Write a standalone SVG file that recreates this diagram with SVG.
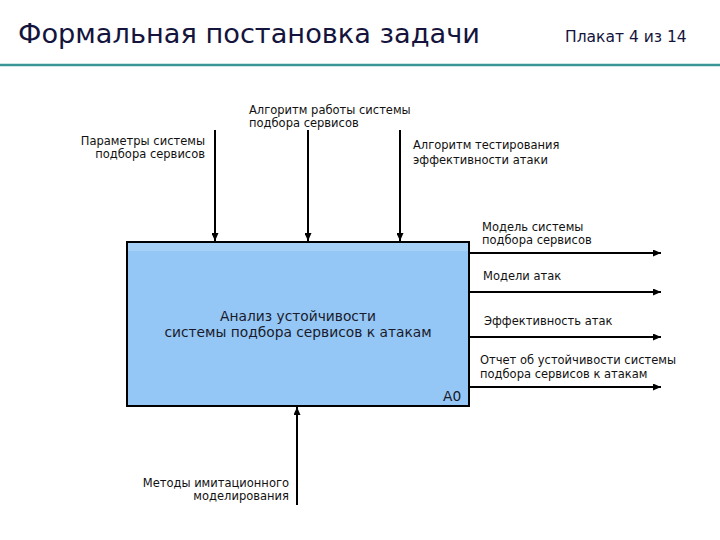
<svg xmlns="http://www.w3.org/2000/svg" width="720" height="540" viewBox="0 0 720 540">
<defs>
<marker id="ah" markerWidth="8" markerHeight="7" refX="8" refY="3.5" orient="auto" markerUnits="userSpaceOnUse">
<path d="M0,0 L8,3.5 L0,7 Z" fill="#000"/>
</marker>
<style>
.lbl{font-family:"DejaVu Sans",Verdana,sans-serif;font-size:11.5px;fill:#111}
.ttl{font-family:"DejaVu Sans",Verdana,sans-serif;fill:#14143c}
.conn line{stroke:#000;stroke-width:2;marker-end:url(#ah)}
.box{fill:#94c7f6;stroke:#000;stroke-width:2}
.ctr{font-family:"DejaVu Sans",Verdana,sans-serif;font-size:13.8px;fill:#1a1a2a}
</style>
</defs>
<rect width="720" height="540" fill="#fff"/>
<g id="header">
<text class="ttl" x="18" y="43" font-size="26" textLength="462" lengthAdjust="spacingAndGlyphs">Формальная постановка задачи</text>
<text class="ttl" x="565" y="42" font-size="15.5">Плакат 4 из 14</text>
<line x1="0" y1="65" x2="720" y2="65" stroke="#3a9696" stroke-width="2.5"/>
</g>
<g id="A0">
<rect class="box" x="127" y="242" width="342" height="164"/>
<rect x="128" y="243" width="340" height="8" fill="#a6d0f6"/>
<text class="ctr" x="298" y="321" text-anchor="middle">Анализ устойчивости</text>
<text class="ctr" x="298" y="337" text-anchor="middle">системы подбора сервисов к атакам</text>
<text class="ctr" x="443" y="401">A0</text>
</g>
<g id="connectors" class="conn">
<line x1="215" y1="130" x2="215" y2="241"/>
<line x1="308" y1="130" x2="308" y2="241"/>
<line x1="400" y1="130" x2="400" y2="241"/>
<line x1="469" y1="253" x2="661" y2="253"/>
<line x1="469" y1="292" x2="661" y2="292"/>
<line x1="469" y1="337" x2="661" y2="337"/>
<line x1="469" y1="387" x2="661" y2="387"/>
<line x1="297" y1="505" x2="297" y2="407"/>
</g>
<g id="labels">
<text class="lbl" x="205" y="145" text-anchor="end">Параметры системы</text>
<text class="lbl" x="205" y="158" text-anchor="end">подбора сервисов</text>
<text class="lbl" x="249" y="114">Алгоритм работы системы</text>
<text class="lbl" x="249" y="127">подбора сервисов</text>
<text class="lbl" x="413" y="149">Алгоритм тестирования</text>
<text class="lbl" x="413" y="164">эффективности атаки</text>
<text class="lbl" x="482" y="231">Модель системы</text>
<text class="lbl" x="482" y="244">подбора сервисов</text>
<text class="lbl" x="483" y="280">Модели атак</text>
<text class="lbl" x="484" y="325">Эффективность атак</text>
<text class="lbl" x="480" y="364">Отчет об устойчивости системы</text>
<text class="lbl" x="480" y="378">подбора сервисов к атакам</text>
<text class="lbl" x="289" y="487" text-anchor="end">Методы имитационного</text>
<text class="lbl" x="289" y="500" text-anchor="end">моделирования</text>
</g>
</svg>
